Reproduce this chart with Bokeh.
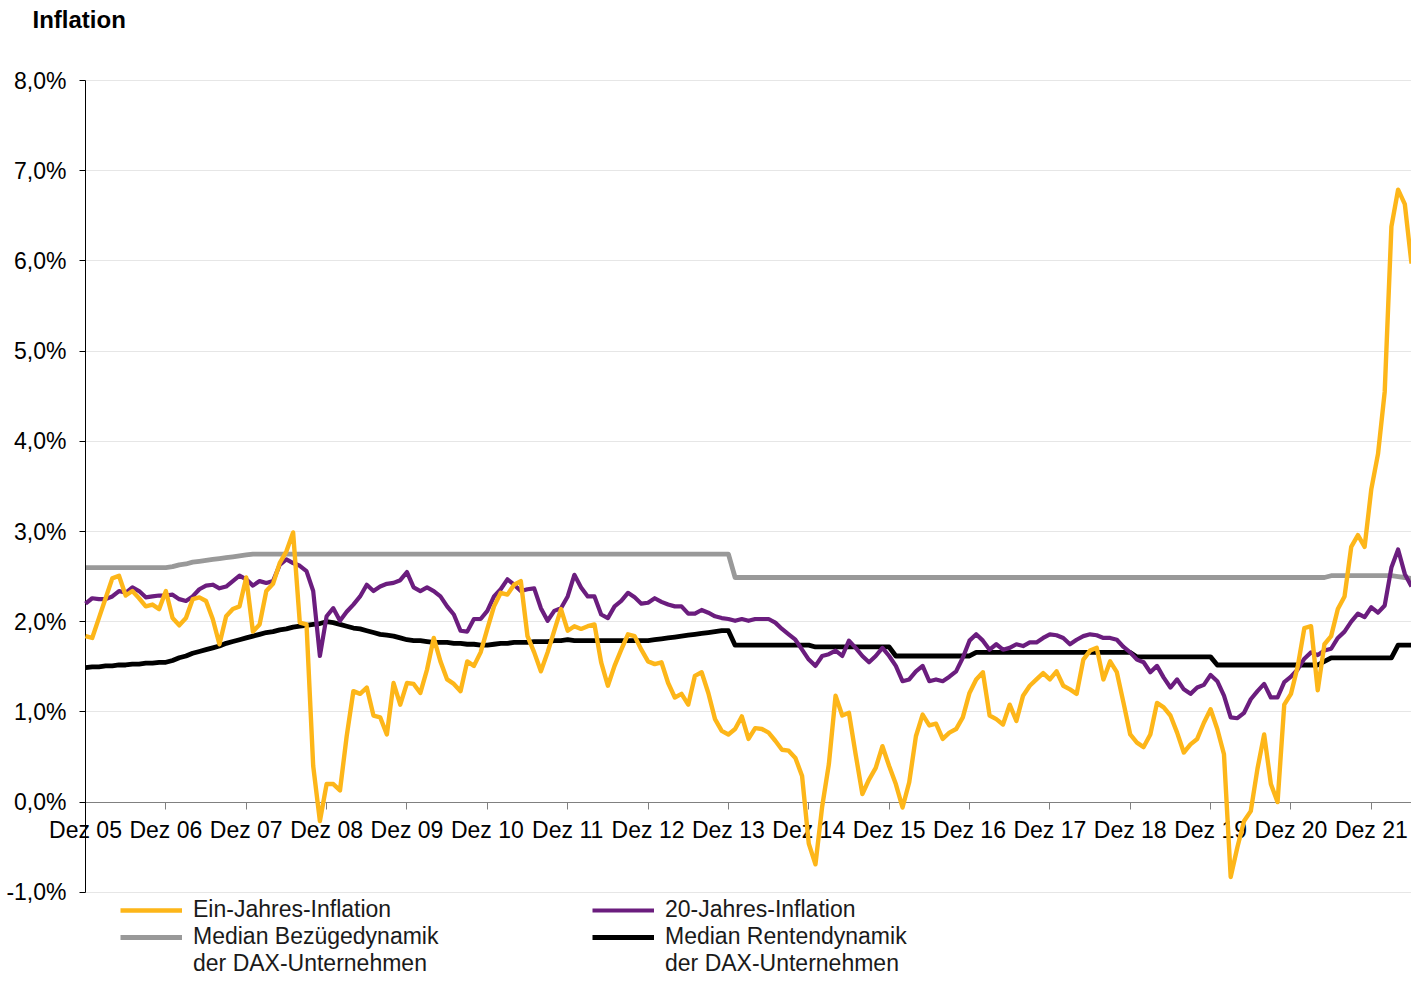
from bokeh.plotting import figure
from bokeh.models import Range1d, FixedTicker, Legend, LegendItem, Label, Grid
from bokeh.embed import file_html
from bokeh.resources import INLINE

# ---------------- data ----------------
x_tick_labels = ["Dez 05", "Dez 06", "Dez 07", "Dez 08", "Dez 09", "Dez 10", "Dez 11",
                 "Dez 12", "Dez 13", "Dez 14", "Dez 15", "Dez 16", "Dez 17", "Dez 18",
                 "Dez 19", "Dez 20", "Dez 21"]
x_tick_months = [0, 12, 24, 36, 48, 60, 72, 84, 96, 108, 120, 132, 144, 156, 168, 180, 192]
y_ticks = [-1, 0, 1, 2, 3, 4, 5, 6, 7, 8]
y_tick_labels = ["-1,0%", "0,0%", "1,0%", "2,0%", "3,0%", "4,0%", "5,0%", "6,0%", "7,0%", "8,0%"]

# monthly values, Dec 2005 .. Jun 2022 (in %)
ein_jahres = [
    1.84, 1.82, 2.04, 2.26, 2.48, 2.51, 2.29, 2.34, 2.26, 2.17, 2.19, 2.14,
    2.34, 2.04, 1.96, 2.04, 2.25, 2.27, 2.23, 2.03, 1.75, 2.06, 2.14, 2.17,
    2.49, 1.89, 1.97, 2.34, 2.42, 2.65, 2.78, 2.99, 1.99, 1.97, 0.40, -0.21,
    0.20, 0.20, 0.13, 0.73, 1.23, 1.20, 1.27, 0.96, 0.94, 0.75, 1.32, 1.08,
    1.32, 1.31, 1.21, 1.47, 1.82, 1.56, 1.36, 1.31, 1.23, 1.56, 1.51, 1.66,
    1.92, 2.17, 2.32, 2.30, 2.41, 2.45, 1.84, 1.66, 1.45, 1.66, 1.90, 2.14,
    1.90, 1.95, 1.92, 1.95, 1.97, 1.55, 1.29, 1.51, 1.69, 1.86, 1.84, 1.69,
    1.56, 1.53, 1.55, 1.32, 1.16, 1.20, 1.08, 1.40, 1.44, 1.21, 0.92, 0.79,
    0.75, 0.81, 0.95, 0.70, 0.82, 0.81, 0.77, 0.68, 0.58, 0.57, 0.49, 0.29,
    -0.46, -0.69, -0.05, 0.42, 1.18, 0.96, 0.99, 0.53, 0.09, 0.25, 0.38, 0.62,
    0.40, 0.20, -0.06, 0.22, 0.73, 0.97, 0.85, 0.87, 0.70, 0.77, 0.81, 0.94,
    1.21, 1.36, 1.44, 0.96, 0.92, 0.86, 1.08, 0.90, 1.18, 1.29, 1.36, 1.43,
    1.36, 1.45, 1.29, 1.25, 1.20, 1.58, 1.68, 1.71, 1.36, 1.56, 1.44, 1.10,
    0.75, 0.66, 0.61, 0.75, 1.10, 1.05, 0.96, 0.77, 0.55, 0.64, 0.70, 0.88,
    1.03, 0.81, 0.53, -0.83, -0.50, -0.21, -0.10, 0.37, 0.75, 0.20, 0.00, 1.08,
    1.20, 1.50, 1.93, 1.95, 1.24, 1.75, 1.84, 2.14, 2.28, 2.83, 2.96, 2.83,
    3.47, 3.86, 4.55, 6.38, 6.79, 6.63, 5.97,
]

zwanzig_jahres = [
    2.20, 2.26, 2.25, 2.25, 2.28, 2.34, 2.32, 2.38, 2.34, 2.27, 2.28, 2.29,
    2.29, 2.30, 2.25, 2.23, 2.28, 2.36, 2.40, 2.41, 2.37, 2.39, 2.45, 2.51,
    2.47, 2.40, 2.45, 2.43, 2.45, 2.63, 2.69, 2.65, 2.62, 2.56, 2.34, 1.62,
    2.06, 2.15, 2.01, 2.11, 2.19, 2.28, 2.41, 2.34, 2.39, 2.42, 2.43, 2.46,
    2.55, 2.38, 2.34, 2.38, 2.34, 2.28, 2.17, 2.08, 1.90, 1.89, 2.03, 2.03,
    2.12, 2.28, 2.36, 2.47, 2.41, 2.34, 2.36, 2.37, 2.15, 2.01, 2.12, 2.15,
    2.28, 2.52, 2.38, 2.28, 2.28, 2.08, 2.04, 2.17, 2.23, 2.32, 2.27, 2.20,
    2.21, 2.26, 2.22, 2.19, 2.17, 2.17, 2.09, 2.09, 2.13, 2.10, 2.06, 2.04,
    2.03, 2.01, 2.03, 2.01, 2.03, 2.03, 2.03, 1.99, 1.92, 1.86, 1.80, 1.69,
    1.58, 1.51, 1.62, 1.64, 1.68, 1.62, 1.79, 1.71, 1.62, 1.55, 1.62, 1.71,
    1.62, 1.51, 1.34, 1.36, 1.45, 1.51, 1.34, 1.36, 1.34, 1.39, 1.45, 1.60,
    1.79, 1.86, 1.79, 1.69, 1.75, 1.69, 1.71, 1.75, 1.73, 1.77, 1.77, 1.82,
    1.86, 1.85, 1.82, 1.75, 1.80, 1.84, 1.86, 1.85, 1.82, 1.82, 1.80, 1.72,
    1.66, 1.58, 1.55, 1.44, 1.51, 1.38, 1.27, 1.36, 1.25, 1.20, 1.27, 1.30,
    1.41, 1.34, 1.18, 0.94, 0.93, 0.99, 1.14, 1.23, 1.31, 1.16, 1.16, 1.33,
    1.39, 1.47, 1.59, 1.66, 1.63, 1.68, 1.70, 1.82, 1.89, 2.00, 2.09, 2.05,
    2.16, 2.10, 2.18, 2.60, 2.80, 2.53, 2.39,
]

median_bezuege = [
    2.60, 2.60, 2.60, 2.60, 2.60, 2.60, 2.60, 2.60, 2.60, 2.60, 2.60, 2.60,
    2.60, 2.61, 2.63, 2.64, 2.66, 2.67, 2.68, 2.69, 2.70, 2.71, 2.72, 2.73,
    2.74, 2.75, 2.75, 2.75, 2.75, 2.75, 2.75, 2.75, 2.75, 2.75, 2.75, 2.75,
    2.75, 2.75, 2.75, 2.75, 2.75, 2.75, 2.75, 2.75, 2.75, 2.75, 2.75, 2.75,
    2.75, 2.75, 2.75, 2.75, 2.75, 2.75, 2.75, 2.75, 2.75, 2.75, 2.75, 2.75,
    2.75, 2.75, 2.75, 2.75, 2.75, 2.75, 2.75, 2.75, 2.75, 2.75, 2.75, 2.75,
    2.75, 2.75, 2.75, 2.75, 2.75, 2.75, 2.75, 2.75, 2.75, 2.75, 2.75, 2.75,
    2.75, 2.75, 2.75, 2.75, 2.75, 2.75, 2.75, 2.75, 2.75, 2.75, 2.75, 2.75,
    2.75, 2.49, 2.49, 2.49, 2.49, 2.49, 2.49, 2.49, 2.49, 2.49, 2.49, 2.49,
    2.49, 2.49, 2.49, 2.49, 2.49, 2.49, 2.49, 2.49, 2.49, 2.49, 2.49, 2.49,
    2.49, 2.49, 2.49, 2.49, 2.49, 2.49, 2.49, 2.49, 2.49, 2.49, 2.49, 2.49,
    2.49, 2.49, 2.49, 2.49, 2.49, 2.49, 2.49, 2.49, 2.49, 2.49, 2.49, 2.49,
    2.49, 2.49, 2.49, 2.49, 2.49, 2.49, 2.49, 2.49, 2.49, 2.49, 2.49, 2.49,
    2.49, 2.49, 2.49, 2.49, 2.49, 2.49, 2.49, 2.49, 2.49, 2.49, 2.49, 2.49,
    2.49, 2.49, 2.49, 2.49, 2.49, 2.49, 2.49, 2.49, 2.49, 2.49, 2.49, 2.49,
    2.49, 2.49, 2.49, 2.49, 2.49, 2.49, 2.51, 2.51, 2.51, 2.51, 2.51, 2.51,
    2.51, 2.51, 2.51, 2.51, 2.50, 2.49, 2.48,
]

median_renten = [
    1.49, 1.50, 1.50, 1.51, 1.51, 1.52, 1.52, 1.53, 1.53, 1.54, 1.54, 1.55,
    1.55, 1.57, 1.60, 1.62, 1.65, 1.67, 1.69, 1.71, 1.73, 1.76, 1.78, 1.80,
    1.82, 1.84, 1.86, 1.88, 1.89, 1.91, 1.92, 1.94, 1.95, 1.96, 1.97, 1.98,
    2.00, 1.99, 1.97, 1.95, 1.93, 1.92, 1.90, 1.88, 1.86, 1.85, 1.84, 1.82,
    1.80, 1.79, 1.79, 1.78, 1.77, 1.77, 1.77, 1.76, 1.76, 1.75, 1.75, 1.74,
    1.74, 1.75, 1.76, 1.76, 1.77, 1.77, 1.77, 1.78, 1.78, 1.78, 1.79, 1.79,
    1.80, 1.79, 1.79, 1.79, 1.79, 1.79, 1.79, 1.79, 1.79, 1.79, 1.79, 1.79,
    1.79, 1.80, 1.81, 1.82, 1.83, 1.84, 1.85, 1.86, 1.87, 1.88, 1.89, 1.90,
    1.90, 1.74, 1.74, 1.74, 1.74, 1.74, 1.74, 1.74, 1.74, 1.74, 1.74, 1.74,
    1.74, 1.72, 1.72, 1.72, 1.72, 1.72, 1.72, 1.72, 1.72, 1.72, 1.72, 1.72,
    1.72, 1.62, 1.62, 1.62, 1.62, 1.62, 1.62, 1.62, 1.62, 1.62, 1.62, 1.62,
    1.62, 1.66, 1.66, 1.66, 1.66, 1.66, 1.66, 1.66, 1.66, 1.66, 1.66, 1.66,
    1.66, 1.66, 1.66, 1.66, 1.66, 1.66, 1.66, 1.66, 1.66, 1.66, 1.66, 1.66,
    1.66, 1.61, 1.61, 1.61, 1.61, 1.61, 1.61, 1.61, 1.61, 1.61, 1.61, 1.61,
    1.61, 1.52, 1.52, 1.52, 1.52, 1.52, 1.52, 1.52, 1.52, 1.52, 1.52, 1.52,
    1.52, 1.52, 1.52, 1.52, 1.52, 1.56, 1.60, 1.60, 1.60, 1.60, 1.60, 1.60,
    1.60, 1.60, 1.60, 1.60, 1.74, 1.74, 1.74,
]

months = list(range(len(ein_jahres)))

# ---------------- layout (pixels) ----------------
FONT = "Liberation Sans"
W, H = 1411, 977
AXIS_X = 85          # pixel column of the value axis
TOP_PX = 80          # pixel row of the 8 % line
PX_PER_PCT = 90.2
X_END = 198.0        # last month shown at right edge

px_per_month = (W - AXIS_X) / X_END
x_start = -AXIS_X / px_per_month
y_top = 8 + TOP_PX / PX_PER_PCT
y_bottom = y_top - H / PX_PER_PCT

p = figure(width=W, height=H, output_backend="svg", toolbar_location=None,
           x_range=Range1d(x_start, X_END), y_range=Range1d(y_bottom, y_top),
           min_border_left=0, min_border_right=0, min_border_top=0,
           min_border_bottom=0)
p.outline_line_color = None
p.background_fill_color = "white"
p.border_fill_color = "white"

# y axis (drawn at month 0)
yax = p.yaxis[0]
yax.fixed_location = 0
yax.ticker = FixedTicker(ticks=y_ticks)
yax.major_label_overrides = {t: s for t, s in zip(y_ticks, y_tick_labels)}
yax.bounds = (-1, 8)
yax.axis_line_color = "black"
yax.axis_line_width = 1
yax.major_tick_line_color = "black"
yax.major_tick_out = 6
yax.major_tick_in = 0
yax.minor_tick_out = 0
yax.minor_tick_in = 0
yax.major_label_text_font = FONT
yax.major_label_text_font_size = "23px"
yax.major_label_text_color = "black"
yax.major_label_standoff = 13

# x axis (drawn at 0 %)
xax = p.xaxis[0]
xax.fixed_location = 0
xax.ticker = FixedTicker(ticks=x_tick_months)
xax.major_label_overrides = {m: s for m, s in zip(x_tick_months, x_tick_labels)}
xax.bounds = (0, X_END)
xax.axis_line_color = "#808080"
xax.axis_line_width = 1
xax.major_tick_line_color = "#808080"
xax.major_tick_out = 7
xax.major_tick_in = 0
xax.minor_tick_out = 0
xax.minor_tick_in = 0
xax.major_label_text_font = FONT
xax.major_label_text_font_size = "23px"
xax.major_label_text_color = "black"
xax.major_label_standoff = 8

# horizontal grid lines only to the right of the value axis
p.xgrid.visible = False
GRID_COLOR = "#e6e6e6"
if "cross_bounds" in Grid.properties():
    p.ygrid.ticker = FixedTicker(ticks=y_ticks)
    p.ygrid.cross_bounds = (0, X_END)
    p.ygrid.grid_line_color = GRID_COLOR
    p.ygrid.grid_line_width = 1
else:
    p.ygrid.visible = False
    p.segment(x0=[0] * len(y_ticks), y0=y_ticks, x1=[X_END] * len(y_ticks), y1=y_ticks,
              line_color=GRID_COLOR, line_width=1, level="underlay")

# lines
r_gray = p.line(months, median_bezuege, line_color="#999999", line_width=4.8,
                line_join="round")
r_black = p.line(months, median_renten, line_color="black", line_width=4.8,
                 line_join="round")
r_purple = p.line(months, zwanzig_jahres, line_color="#6b1d7e", line_width=4.2,
                  line_join="round", level="overlay")
r_orange = p.line(months, ein_jahres, line_color="#fdb619", line_width=4.4,
                  line_join="round", level="overlay")
r_blank = p.line([], [], line_alpha=0)

legend_style = dict(
    label_text_font=FONT, label_text_font_size="23px", label_text_color="#1a1a1a",
    glyph_width=62, glyph_height=22, label_height=22, spacing=0, padding=0,
    margin=0, label_standoff=11, border_line_color=None, background_fill_alpha=0,
)
leg1 = Legend(items=[
    LegendItem(label="Ein-Jahres-Inflation", renderers=[r_orange]),
    LegendItem(label="Median Bezügedynamik", renderers=[r_gray]),
    LegendItem(label="der DAX-Unternehmen", renderers=[r_blank]),
], location=(120, 0), **legend_style)
leg2 = Legend(items=[
    LegendItem(label="20-Jahres-Inflation", renderers=[r_purple]),
    LegendItem(label="Median Rentendynamik", renderers=[r_black]),
    LegendItem(label="der DAX-Unternehmen", renderers=[r_blank]),
], location=(592, 0), **legend_style)
p.add_layout(leg1, "center")
p.add_layout(leg2, "center")

title = Label(x=32, y=H - 19, x_units="screen", y_units="screen",
              text="Inflation", text_font=FONT, text_font_size="24px",
              text_font_style="bold", text_color="black",
              text_baseline="alphabetic", text_align="left")
p.add_layout(title)

open("out.html", "w").write(file_html(p, INLINE))
